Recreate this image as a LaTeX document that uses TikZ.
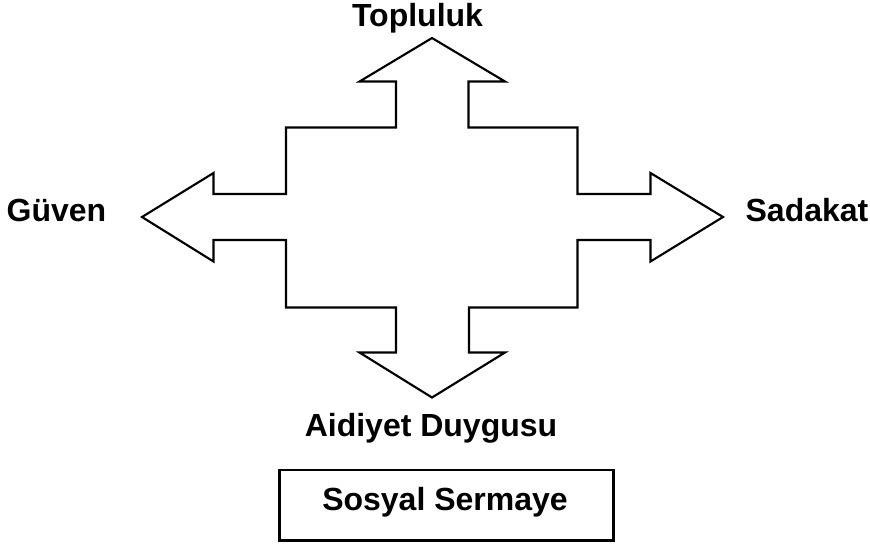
\documentclass[tikz,border=0pt]{standalone}
\usepackage{fontspec}
\setmainfont{Liberation Sans}
\begin{document}
\begin{tikzpicture}[x=0.75pt,y=-0.75pt,
  outline/.style={draw=black,line width=1.6pt,line join=miter},
  label/.style={font=\fontsize{24}{28}\selectfont\bfseries,inner sep=0pt,anchor=base}]
\useasboundingbox (0,0) rectangle (870,547);
% four-way arrow
\draw[outline] (432,38) -- (505,81.5) -- (468.5,81.5) -- (468.5,127.5)
  -- (577.5,127.5) -- (577.5,194) -- (650.5,194) -- (650.5,173)
  -- (723,217) -- (650.5,261.5) -- (650.5,240) -- (577.5,240)
  -- (577.5,307.5) -- (469,307.5) -- (469,352.5) -- (505,352.5)
  -- (432,397.5) -- (359.5,352.5) -- (396,352.5) -- (396,307.5)
  -- (286,307.5) -- (286,240) -- (213.5,240) -- (213.5,261.5)
  -- (142,217) -- (213.5,173) -- (213.5,194) -- (286,194)
  -- (286,127.5) -- (396,127.5) -- (396,81.5) -- (359.5,81.5) -- cycle;
% direction labels
\node[label] (top) at (417.5,26.5) {Topluluk};
\node[label] (left) at (56.5,221.5) {Güven};
\node[label] (right) at (807,221.5) {Sadakat};
\node[label] (bottom) at (431,436.5) {Aidiyet Duygusu};
% caption box
\draw[outline] (279.5,470) rectangle (613.5,540.5);
\node[label] (caption) at (445,510) {Sosyal Sermaye};
\end{tikzpicture}
\end{document}
